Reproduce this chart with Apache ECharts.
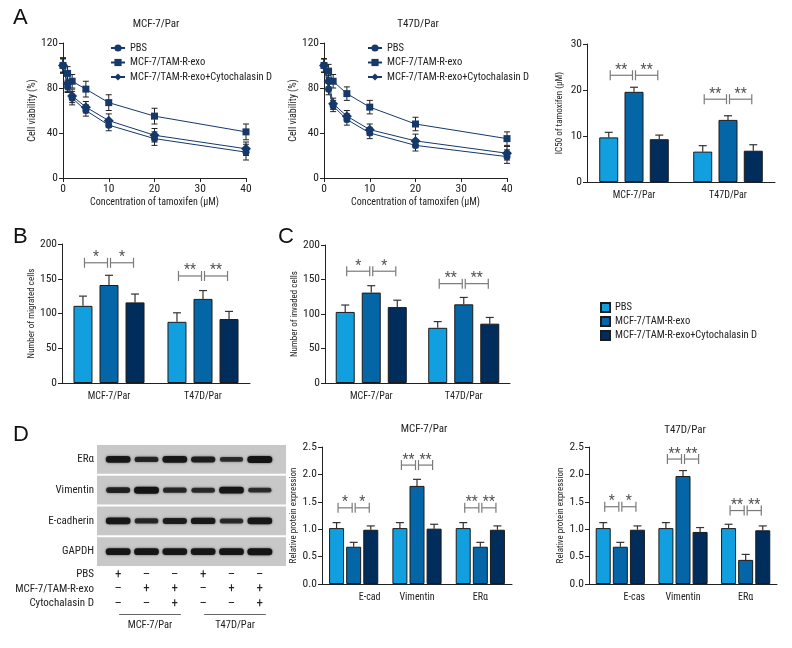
<!DOCTYPE html>
<html>
<head>
<meta charset="utf-8">
<script src="https://cdn.jsdelivr.net/npm/echarts@6/dist/echarts.min.js"></script>
<style>
  html, body { margin: 0; padding: 0; background: #fff; }
  #main { width: 792px; height: 648px; }
</style>
</head>
<body>
<div id="main"></div>
<script>
const FONT = '"Roboto Condensed", "Liberation Sans", sans-serif';
const INK = '#222';

const groupNames = ['PBS', 'MCF-7/TAM-R-exo', 'MCF-7/TAM-R-exo+Cytochalasin D'];
const barColors = ['#129FE0', '#0466A6', '#002D5C'];
const lineColor = '#15396B';
const lineSymbols = ['circle', 'rect', 'diamond'];
const lineSymbolSizes = [7, 7, 10];

// A: cell viability vs tamoxifen
const concX = [0, 1, 2, 5, 10, 20, 40];
const mcfPbs = [100, 81, 71, 60, 47, 35, 23];
const mcfPbsErr = [7, 5, 6, 5, 5, 6, 7];
const mcfExo = [100, 93, 86, 79, 67, 55, 41];
const mcfExoErr = [6, 6, 6, 7, 7, 7, 7];
const mcfCyto = [100, 84, 73, 63, 51, 38, 26];
const mcfCytoErr = [6, 7, 6, 5, 6, 6, 6];
const t47Pbs = [100, 79, 64, 52, 40, 29, 19];
const t47PbsErr = [6, 5, 5, 5, 5, 5, 6];
const t47Exo = [100, 95, 86, 75, 63, 48, 35];
const t47ExoErr = [6, 6, 6, 6, 6, 6, 6];
const t47Cyto = [100, 86, 66, 55, 43, 33, 22];
const t47CytoErr = [6, 5, 5, 5, 5, 6, 6];

// A right: IC50
const cellCats = ['MCF-7/Par', 'T47D/Par'];
const icPbs = [9.7, 6.6];
const icPbsErr = [1.1, 1.3];
const icExo = [19.6, 13.5];
const icExoErr = [1.0, 0.9];
const icCyto = [9.3, 6.8];
const icCytoErr = [0.9, 1.3];
const icSig = [[0, 0, 1, 23.2, '**'], [0, 1, 2, 23.2, '**'], [1, 0, 1, 18, '**'], [1, 1, 2, 18, '**']];

// B: migration
const migPbs = [111, 88];
const migPbsErr = [14, 13];
const migExo = [141, 121];
const migExoErr = [14, 12];
const migCyto = [116, 92];
const migCytoErr = [12, 11];
const migSig = [[0, 0, 1, 173, '*'], [0, 1, 2, 173, '*'], [1, 0, 1, 154, '**'], [1, 1, 2, 154, '**']];

// C: invasion
const invPbs = [103, 80];
const invPbsErr = [10, 9];
const invExo = [131, 114];
const invExoErr = [10, 10];
const invCyto = [110, 86];
const invCytoErr = [10, 9];
const invSig = [[0, 0, 1, 162, '*'], [0, 1, 2, 162, '*'], [1, 0, 1, 144, '**'], [1, 1, 2, 144, '**']];

// D: protein expression
const mcfProtCats = ['E-cad', 'Vimentin', 'ERα'];
const mcfProtPbs = [1.02, 1.02, 1.02];
const mcfProtPbsErr = [0.1, 0.1, 0.1];
const mcfProtExo = [0.68, 1.79, 0.68];
const mcfProtExoErr = [0.08, 0.12, 0.08];
const mcfProtCyto = [0.99, 1.01, 0.99];
const mcfProtCytoErr = [0.07, 0.08, 0.07];
const mcfProtSig = [[0, 0, 1, 1.39, '*'], [0, 1, 2, 1.39, '*'], [1, 0, 1, 2.17, '**'], [1, 1, 2, 2.17, '**'], [2, 0, 1, 1.39, '**'], [2, 1, 2, 1.39, '**']];

const t47ProtCats = ['E-cas', 'Vimentin', 'ERα'];
const t47ProtPbs = [1.02, 1.02, 1.02];
const t47ProtPbsErr = [0.1, 0.1, 0.07];
const t47ProtExo = [0.68, 1.97, 0.44];
const t47ProtExoErr = [0.08, 0.1, 0.1];
const t47ProtCyto = [0.99, 0.95, 0.98];
const t47ProtCytoErr = [0.07, 0.08, 0.08];
const t47ProtSig = [[0, 0, 1, 1.41, '*'], [0, 1, 2, 1.41, '*'], [1, 0, 1, 2.28, '**'], [1, 1, 2, 2.28, '**'], [2, 0, 1, 1.34, '**'], [2, 1, 2, 1.34, '**']];

// D: western blot
const blotLanes = ['1', '2', '3', '4', '5', '6'];
const blotRows = ['ERα', 'Vimentin', 'E-cadherin', 'GAPDH'];
const erBand = [0.9, 0.6, 0.9, 0.75, 0.45, 1.0];
const vimBand = [0.65, 1.0, 0.55, 0.5, 0.95, 0.45];
const ecadBand = [0.9, 0.55, 0.75, 0.85, 0.5, 0.9];
const gapdhBand = [0.95, 0.95, 0.9, 0.9, 0.95, 1.0];
const treatRows = ['PBS', 'MCF-7/TAM-R-exo', 'Cytochalasin D'];
const pbsSigns = ['+', '–', '–', '+', '–', '–'];
const exoSigns = ['–', '+', '+', '–', '+', '+'];
const cytoSigns = ['–', '–', '+', '–', '–', '+'];
const laneGroups = [[0, 2, 'MCF-7/Par'], [3, 5, 'T47D/Par']];

const chart = echarts.init(document.getElementById('main'));

const grids = [
  { left: 63, top: 43, width: 183, height: 135 },   // A left
  { left: 324, top: 43, width: 183, height: 135 },  // A middle
  { left: 587, top: 44, width: 188, height: 138 },  // A right
  { left: 62, top: 244, width: 188, height: 139 },  // B
  { left: 325, top: 245, width: 185, height: 138 }, // C
  { left: 322, top: 447, width: 190, height: 137 }, // D middle
  { left: 589, top: 447, width: 188, height: 137 }, // D right
  { left: 104, top: 444, width: 170, height: 123 }, // blot
  { left: 104, top: 567, width: 170, height: 43.5 } // treatment signs
];

const xAxes = [];
const yAxes = [];
const series = [];

function valueAxis(gridIndex, min, max, interval, name, gap, fmt) {
  return {
    type: 'value', gridIndex, min, max, interval,
    name, nameLocation: 'middle', nameGap: gap,
    nameTextStyle: { fontFamily: FONT, fontSize: 9, color: INK },
    axisLine: { show: true, lineStyle: { color: INK, width: 1 } },
    axisTick: { show: true, length: 4, lineStyle: { color: INK } },
    axisLabel: { fontFamily: FONT, fontSize: 11.5, color: INK, margin: 5, formatter: fmt },
    splitLine: { show: false }
  };
}

// shift: optional horizontal offsets for individual category labels
function catAxis(gridIndex, data, shift) {
  return {
    type: 'category', gridIndex,
    data: data.map((d, i) => {
      const s = shift ? shift[i] : 0;
      return s ? { value: d, textStyle: { padding: [0, 0, 0, 2 * s] } } : d;
    }),
    axisLine: { show: true, lineStyle: { color: INK, width: 1 } },
    axisTick: { show: false },
    axisLabel: { fontFamily: FONT, fontSize: 10, color: INK, margin: 8, interval: 0 },
    splitLine: { show: false }
  };
}

// line chart with error bars
function addLineChart(gridIndex, ys, errs) {
  const ax = xAxes.length;
  xAxes.push(Object.assign(valueAxis(gridIndex, 0, 40, 10, 'Concentration of tamoxifen (μM)', 19), {
    nameTextStyle: { fontFamily: FONT, fontSize: 10, color: INK }
  }));
  yAxes.push(Object.assign(valueAxis(gridIndex, 0, 120, 40, 'Cell viability (%)', 21), {
    nameTextStyle: { fontFamily: FONT, fontSize: 10, color: INK }
  }));
  ys.forEach((vals, i) => {
    const err = errs[i];
    series.push({
      type: 'custom', xAxisIndex: ax, yAxisIndex: ax, z: 1,
      data: concX.map((x, j) => [x, vals[j], err[j]]),
      encode: { x: 0, y: 1 },
      renderItem(params, api) {
        const top = api.coord([api.value(0), api.value(1) + api.value(2)]);
        const bot = api.coord([api.value(0), api.value(1) - api.value(2)]);
        const st = { stroke: INK, lineWidth: 1 };
        return {
          type: 'group', children: [
            { type: 'line', shape: { x1: top[0], y1: top[1], x2: bot[0], y2: bot[1] }, style: st },
            { type: 'line', shape: { x1: top[0] - 3, y1: top[1], x2: top[0] + 3, y2: top[1] }, style: st },
            { type: 'line', shape: { x1: bot[0] - 3, y1: bot[1], x2: bot[0] + 3, y2: bot[1] }, style: st }
          ]
        };
      }
    });
    series.push({
      type: 'line', name: groupNames[i], xAxisIndex: ax, yAxisIndex: ax, z: 3,
      data: concX.map((x, j) => [x, vals[j]]),
      symbol: lineSymbols[i], symbolSize: lineSymbolSizes[i], showSymbol: true,
      lineStyle: { color: lineColor, width: 1 },
      itemStyle: { color: lineColor }
    });
  });
}

// grouped bar chart with error bars and significance brackets
function addBarChart(gridIndex, cats, ymax, interval, name, nameGap, vals, errs, sig, barW, gap, fmt, shift) {
  const ax = xAxes.length;
  xAxes.push(catAxis(gridIndex, cats, shift));
  yAxes.push(valueAxis(gridIndex, 0, ymax, interval, name, nameGap, fmt));
  const step = barW * (1 + gap);
  vals.forEach((v, i) => {
    series.push({
      type: 'bar', name: 'bar:' + groupNames[i], xAxisIndex: ax, yAxisIndex: ax,
      data: v, barWidth: barW, barGap: (gap * 100) + '%', z: 2,
      itemStyle: { color: barColors[i], borderColor: '#1b1b1b', borderWidth: 1 }
    });
  });
  const errData = [];
  vals.forEach((v, i) => v.forEach((y, c) => errData.push([c, i, y, errs[i][c]])));
  series.push({
    type: 'custom', xAxisIndex: ax, yAxisIndex: ax, z: 1,
    data: errData, encode: { x: 0, y: 2 },
    renderItem(params, api) {
      const base = api.coord([api.value(0), api.value(2)]);
      const top = api.coord([api.value(0), api.value(2) + api.value(3)]);
      const x = base[0] + (api.value(1) - 1) * step;
      const st = { stroke: '#333', lineWidth: 1.2 };
      return {
        type: 'group', children: [
          { type: 'line', shape: { x1: x, y1: base[1], x2: x, y2: top[1] }, style: st },
          { type: 'line', shape: { x1: x - 4, y1: top[1], x2: x + 4, y2: top[1] }, style: st }
        ]
      };
    }
  });
  series.push({
    type: 'custom', xAxisIndex: ax, yAxisIndex: ax, z: 4,
    data: sig.map(s => [s[0], s[1], s[2], s[3]]), encode: { x: 0, y: 3 },
    renderItem(params, api) {
      const p = api.coord([api.value(0), api.value(3)]);
      const x1 = p[0] + (api.value(1) - 1) * step + 1.5;
      const x2 = p[0] + (api.value(2) - 1) * step - 1.5;
      const st = { stroke: '#7a7a7a', lineWidth: 1.2 };
      return {
        type: 'group', children: [
          { type: 'line', shape: { x1, y1: p[1], x2, y2: p[1] }, style: st },
          { type: 'line', shape: { x1, y1: p[1] - 5, x2: x1, y2: p[1] + 5 }, style: st },
          { type: 'line', shape: { x1: x2, y1: p[1] - 5, x2, y2: p[1] + 5 }, style: st },
          {
            type: 'text', style: {
              text: sig[params.dataIndex][4], x: (x1 + x2) / 2, y: p[1] + 2,
              align: 'center', verticalAlign: 'bottom',
              font: '14px ' + FONT, fill: '#555'
            }
          }
        ]
      };
    }
  });
}

addLineChart(0, [mcfPbs, mcfExo, mcfCyto], [mcfPbsErr, mcfExoErr, mcfCytoErr]);
addLineChart(1, [t47Pbs, t47Exo, t47Cyto], [t47PbsErr, t47ExoErr, t47CytoErr]);
addBarChart(2, cellCats, 30, 10, 'IC50 of tamoxifen (μM)', 23,
  [icPbs, icExo, icCyto], [icPbsErr, icExoErr, icCytoErr], icSig, 19, 0.33);
addBarChart(3, cellCats, 200, 50, 'Number of migrated cells', 22,
  [migPbs, migExo, migCyto], [migPbsErr, migExoErr, migCytoErr], migSig, 19, 0.37);
addBarChart(4, cellCats, 200, 50, 'Number of invaded cells', 20,
  [invPbs, invExo, invCyto], [invPbsErr, invExoErr, invCytoErr], invSig, 19, 0.37);
const oneDecimal = v => v.toFixed(1);
addBarChart(5, mcfProtCats, 2.5, 0.5, 'Relative protein expression', 19,
  [mcfProtPbs, mcfProtExo, mcfProtCyto], [mcfProtPbsErr, mcfProtExoErr, mcfProtCytoErr], mcfProtSig, 15, 0.14, oneDecimal, [16, 0, 0]);
addBarChart(6, t47ProtCats, 2.5, 0.5, 'Relative protein expression', 22,
  [t47ProtPbs, t47ProtExo, t47ProtCyto], [t47ProtPbsErr, t47ProtExoErr, t47ProtCytoErr], t47ProtSig, 15, 0.14, oneDecimal, [14, 0, 0]);

// western blot
const blotAx = xAxes.length;
const hiddenCat = (gridIndex, data, inverse, showLabel) => ({
  type: 'category', gridIndex, data, inverse,
  axisLine: { show: false }, axisTick: { show: false }, splitLine: { show: false },
  axisLabel: { show: showLabel, interval: 0, fontFamily: FONT, fontSize: 11, color: INK, margin: 10 }
});
xAxes.push(hiddenCat(7, blotLanes, false, false));
yAxes.push(hiddenCat(7, blotRows, true, true));
series.push({
  type: 'custom', xAxisIndex: blotAx, yAxisIndex: blotAx, z: 1,
  data: blotRows.map((r, i) => [0, i]), encode: { x: 0, y: 1 },
  renderItem(params, api) {
    const cs = params.coordSys;
    const c = api.coord([0, api.value(1)]);
    const h = api.size([0, 1])[1];
    return {
      type: 'rect',
      shape: { x: cs.x - 7, y: c[1] - h / 2 + 1, width: cs.width + 19, height: h - 2 },
      style: { fill: '#C8C8C8' }
    };
  }
});
const bandData = [];
[erBand, vimBand, ecadBand, gapdhBand].forEach((row, r) => row.forEach((k, l) => bandData.push([l, r, k])));
series.push({
  type: 'custom', xAxisIndex: blotAx, yAxisIndex: blotAx, z: 2,
  data: bandData, encode: { x: 0, y: 1 },
  renderItem(params, api) {
    const p = api.coord([api.value(0), api.value(1)]);
    const k = api.value(2);
    const w = 22 + 3 * k, h = 3 + 4 * k;
    return {
      type: 'rect',
      shape: { x: p[0] - w / 2, y: p[1] - h / 2, width: w, height: h, r: h / 2 },
      style: { fill: 'rgba(20,20,20,' + (0.6 + 0.4 * k) + ')', shadowBlur: 2.5, shadowColor: 'rgba(0,0,0,0.6)' }
    };
  }
});

// treatment table
const signAx = xAxes.length;
xAxes.push(hiddenCat(8, blotLanes, false, false));
yAxes.push(hiddenCat(8, treatRows, true, true));
const signRows = [pbsSigns, exoSigns, cytoSigns];
const signData = [];
signRows.forEach((row, r) => row.forEach((s, l) => signData.push([l, r])));
series.push({
  type: 'custom', xAxisIndex: signAx, yAxisIndex: signAx,
  data: signData, encode: { x: 0, y: 1 },
  renderItem(params, api) {
    const p = api.coord([api.value(0), api.value(1)]);
    return {
      type: 'text',
      style: {
        text: signRows[api.value(1)][api.value(0)], x: p[0], y: p[1],
        align: 'center', verticalAlign: 'middle', font: '13px ' + FONT, fill: INK
      }
    };
  }
});
series.push({
  type: 'custom', xAxisIndex: signAx, yAxisIndex: signAx,
  data: laneGroups.map(g => [g[0], g[1]]), encode: { x: [0, 1] },
  renderItem(params, api) {
    const cs = params.coordSys;
    const a = api.coord([api.value(0), 0]);
    const b = api.coord([api.value(1), 0]);
    const x1 = a[0] + 1, x2 = b[0] + 6;
    const y = cs.y + cs.height + 4;
    return {
      type: 'group', children: [
        { type: 'line', shape: { x1, y1: y, x2, y2: y }, style: { stroke: '#666', lineWidth: 1 } },
        {
          type: 'text', style: {
            text: laneGroups[params.dataIndex][2], x: (x1 + x2) / 2, y: y + 11,
            align: 'center', verticalAlign: 'middle', font: '10.5px ' + FONT, fill: INK
          }
        }
      ]
    };
  }
});

const titleStyle = { fontFamily: FONT, fontSize: 11, fontWeight: 'normal', color: INK };
const letterStyle = { fontFamily: '"Liberation Sans", sans-serif', fontSize: 22, fontWeight: 'normal', color: '#111' };
const legendText = { fontFamily: FONT, fontSize: 10.5, color: INK };

chart.setOption({
  backgroundColor: '#fff',
  animation: false,
  title: [
    { text: 'A', left: 8, top: 2, textStyle: letterStyle },
    { text: 'B', left: 8, top: 221, textStyle: letterStyle },
    { text: 'C', left: 273, top: 221, textStyle: letterStyle },
    { text: 'D', left: 8, top: 419, textStyle: letterStyle },
    { text: 'MCF-7/Par', left: 151, top: 14, textAlign: 'center', textStyle: titleStyle },
    { text: 'T47D/Par', left: 413, top: 14, textAlign: 'center', textStyle: titleStyle },
    { text: 'MCF-7/Par', left: 419, top: 419, textAlign: 'center', textStyle: titleStyle },
    { text: 'T47D/Par', left: 680, top: 420, textAlign: 'center', textStyle: titleStyle }
  ],
  legend: [
    {
      data: groupNames, left: 110, top: 42.5, orient: 'vertical', padding: 0,
      itemWidth: 14, itemHeight: 9, itemGap: 3.5, selectedMode: false, textStyle: legendText
    },
    {
      data: groupNames, left: 367, top: 42.5, orient: 'vertical', padding: 0,
      itemWidth: 14, itemHeight: 9, itemGap: 3.5, selectedMode: false, textStyle: legendText
    },
    {
      data: groupNames.map(n => 'bar:' + n), formatter: n => n.slice(4),
      left: 600, top: 302, orient: 'vertical', icon: 'rect', padding: 0,
      itemWidth: 9, itemHeight: 9, itemGap: 3, selectedMode: false, textStyle: legendText
    }
  ],
  grid: grids,
  xAxis: xAxes,
  yAxis: yAxes,
  series
});
</script>
</body>
</html>
